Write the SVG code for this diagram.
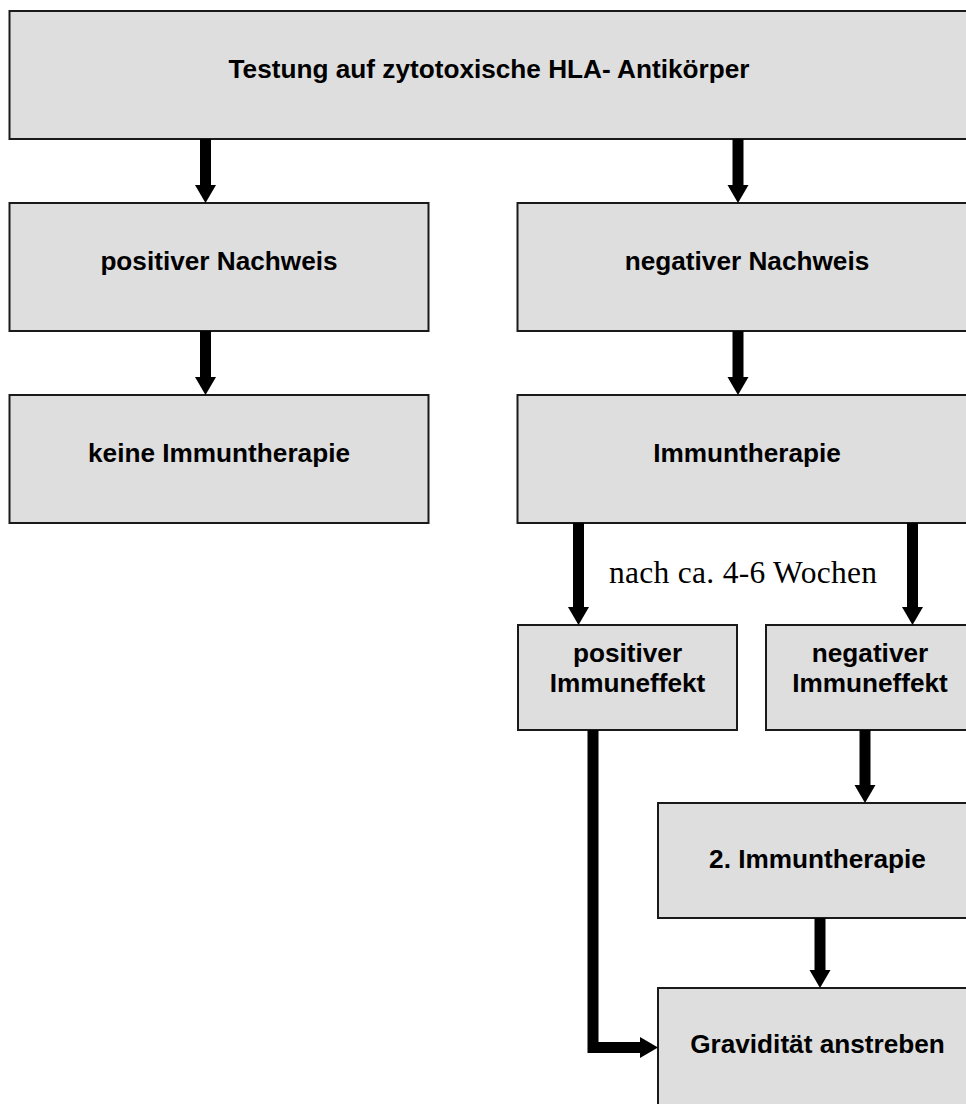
<svg xmlns="http://www.w3.org/2000/svg" width="966" height="1104" viewBox="0 0 966 1104">
<style>
.box{fill:#dedede;stroke:#1a1a1a;stroke-width:2}
.t{font-family:"Liberation Sans",Arial,sans-serif;font-weight:bold;font-size:26.2px;fill:#000;text-anchor:middle}
.lbl{font-family:"Liberation Serif","Times New Roman",serif;font-size:31.5px;fill:#000}
.c{fill:none;stroke:#000;stroke-width:11;stroke-linejoin:miter;marker-end:url(#ah)}
</style>
<defs>
<marker id="ah" markerUnits="userSpaceOnUse" markerWidth="18" markerHeight="22" viewBox="0 -10.5 18 21" refX="1" refY="0" orient="auto">
<path d="M0,-10.5 L18,0 L0,10.5 z" fill="#000"/>
</marker>
</defs>
<rect width="966" height="1104" fill="#fff"/>
<g id="n1"><rect class="box" x="9.5" y="11" width="962" height="128"/><text class="t" x="489" y="78">Testung auf zytotoxische HLA- Antikörper</text></g>
<g id="n2"><rect class="box" x="9.5" y="203" width="419" height="128"/><text class="t" x="219" y="270">positiver Nachweis</text></g>
<g id="n3"><rect class="box" x="517.5" y="203" width="460" height="128"/><text class="t" x="747" y="270">negativer Nachweis</text></g>
<g id="n4"><rect class="box" x="9.5" y="395" width="419" height="128"/><text class="t" x="219" y="462">keine Immuntherapie</text></g>
<g id="n5"><rect class="box" x="517.5" y="395" width="460" height="128"/><text class="t" x="747" y="462">Immuntherapie</text></g>
<g id="n6"><rect class="box" x="518" y="625" width="219" height="105"/><text class="t" x="627.5" y="662">positiver</text><text class="t" x="627.5" y="692">Immuneffekt</text></g>
<g id="n7"><rect class="box" x="766" y="625" width="210" height="105"/><text class="t" x="870" y="662">negativer</text><text class="t" x="870" y="692">Immuneffekt</text></g>
<g id="n8"><rect class="box" x="658" y="803" width="320" height="115"/><text class="t" x="817.5" y="868">2. Immuntherapie</text></g>
<g id="n9"><rect class="box" x="658" y="988" width="320" height="130"/><text class="t" x="817.5" y="1053">Gravidität anstreben</text></g>
<g id="connectors">
<path class="c" d="M205.5,139 V186"/>
<path class="c" d="M738,139 V186"/>
<path class="c" d="M205.5,331 V378"/>
<path class="c" d="M738,331 V378"/>
<path class="c" d="M578.5,523 V608"/>
<path class="c" d="M912.5,523 V608"/>
<path class="c" d="M865,730 V786"/>
<path class="c" d="M820,918 V971"/>
<path class="c" d="M593,730 V1047.5 H641"/>
<text class="lbl" x="609" y="583" textLength="268" lengthAdjust="spacing">nach ca. 4-6 Wochen</text>
</g>
</svg>
